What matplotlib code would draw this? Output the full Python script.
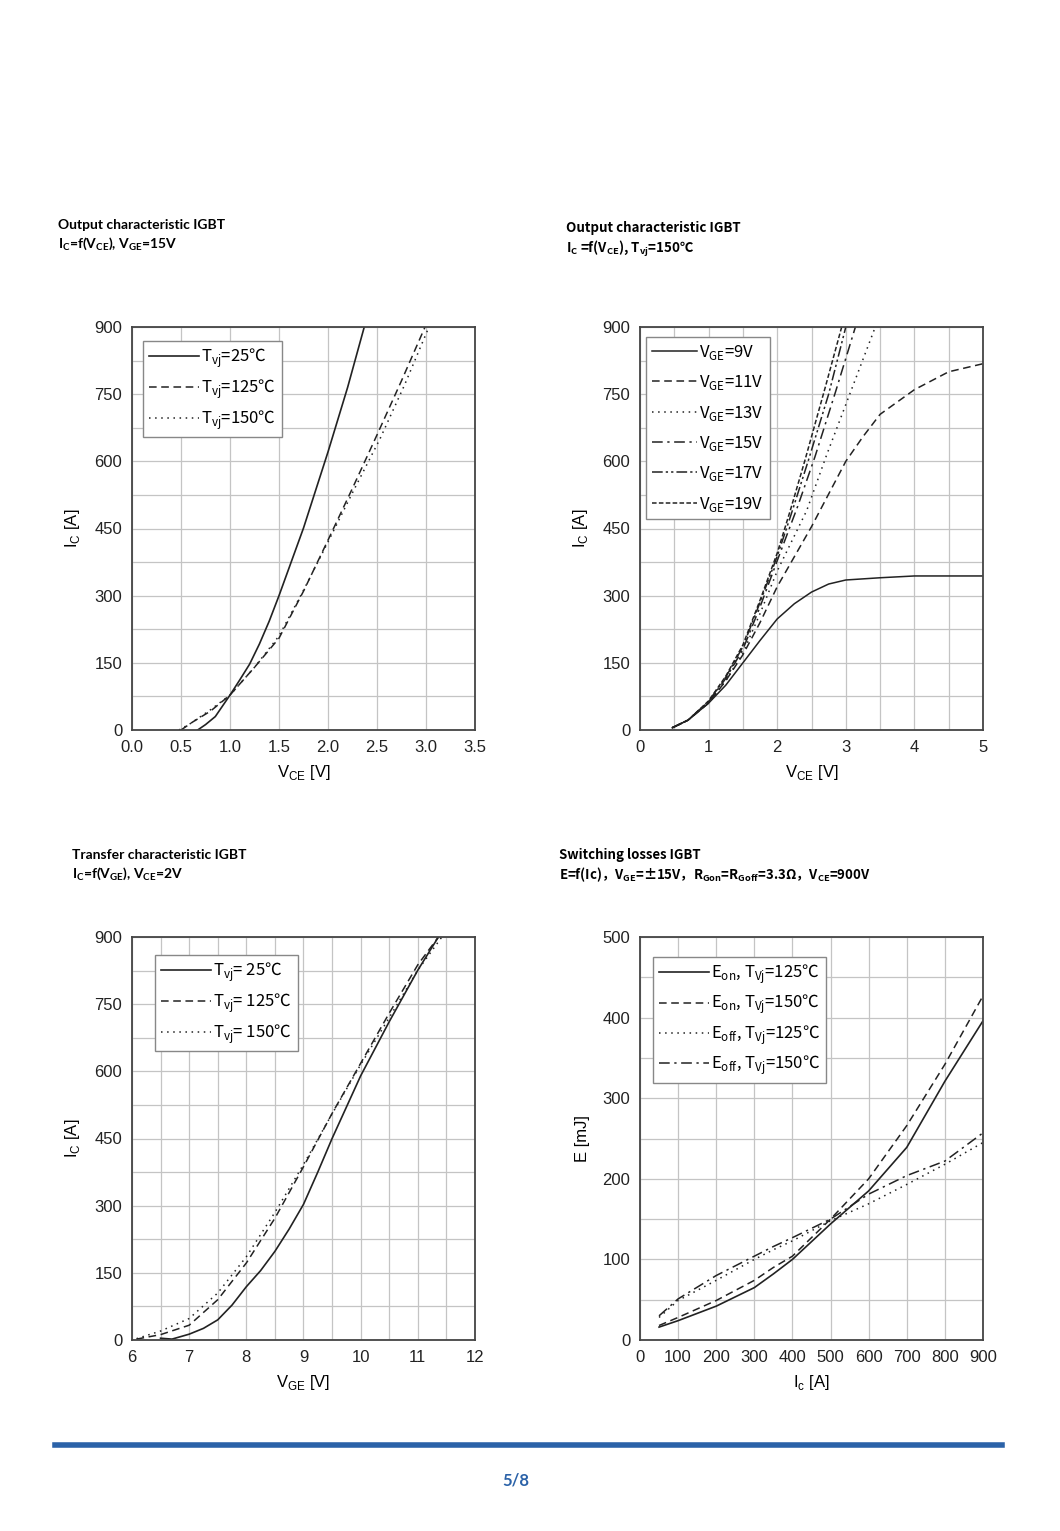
import matplotlib
matplotlib.use("Agg")
from matplotlib import pyplot as plt
from matplotlib.lines import Line2D

plt.rcParams['mathtext.fontset'] = 'custom'
plt.rcParams['font.family'] = ['Liberation Sans', 'DejaVu Sans']

# ---- output characteristic, VGE=15V
oc_25_v = [0.67, 0.75, 0.85, 1.0, 1.1, 1.2, 1.3, 1.4, 1.5, 1.75, 2.0, 2.2, 2.37]
oc_25_i = [0, 12, 30, 78, 112, 147, 192, 243, 300, 451, 621, 765, 900]
oc_125_v = [0.5, 0.62, 0.8, 1.0, 1.25, 1.5, 1.75, 2.0, 2.25, 2.5, 2.75, 3.0]
oc_125_i = [0, 18, 42, 78, 140, 205, 310, 424, 540, 659, 780, 905]
oc_150_v = [0.48, 0.6, 0.8, 1.0, 1.25, 1.5, 1.75, 2.0, 2.25, 2.53, 2.78, 3.03]
oc_150_i = [0, 15, 45, 78, 140, 210, 312, 420, 530, 650, 770, 900]

# ---- output characteristic, Tvj=150C, per VGE
vge_labels = ['9V', '11V', '13V', '15V', '17V', '19V']
vge_v = {
    '9V': [0.47, 0.7, 1.0, 1.25, 1.5, 1.75, 2.0, 2.25, 2.5, 2.75, 3.0, 3.5, 4.0, 5.0],
    '11V': [0.47, 0.7, 1.0, 1.25, 1.5, 1.75, 2.0, 2.5, 3.0, 3.25, 3.5, 4.0, 4.5, 5.0],
    '13V': [0.47, 0.7, 1.0, 1.25, 1.5, 1.75, 2.0, 2.43, 2.72, 3.43],
    '15V': [0.47, 0.7, 1.0, 1.25, 1.5, 1.75, 2.0, 2.3, 2.55, 2.85, 3.14],
    '17V': [0.47, 0.7, 1.0, 1.25, 1.5, 1.75, 2.0, 2.2, 2.45, 2.75, 3.0],
    '19V': [0.47, 0.7, 1.0, 1.25, 1.5, 1.75, 2.0, 2.2, 2.4, 2.7, 2.94],
}
vge_i = {
    '9V': [5, 22, 60, 100, 150, 200, 248, 282, 308, 326, 335, 340, 344, 344],
    '11V': [5, 22, 60, 110, 168, 240, 320, 454, 600, 655, 705, 760, 800, 818],
    '13V': [5, 22, 62, 110, 172, 260, 355, 490, 614, 900],
    '15V': [5, 22, 63, 115, 180, 275, 378, 500, 610, 755, 900],
    '17V': [5, 22, 64, 118, 186, 285, 388, 480, 600, 750, 900],
    '19V': [5, 22, 65, 120, 190, 290, 395, 495, 600, 765, 900],
}

# ---- transfer characteristic
tr_25_v = [6.5, 6.7, 7.0, 7.25, 7.5, 7.75, 8.0, 8.25, 8.5, 8.75, 9.0, 9.25, 9.5,
           10.0, 10.5, 11.0, 11.36]
tr_25_i = [4, 2, 13, 26, 45, 78, 119, 155, 198, 248, 303, 375, 450,
           590, 711, 826, 900]
tr_125_v = [6.08, 6.5, 7.0, 7.5, 8.0, 8.5, 9.0, 9.5, 10.0, 10.5, 11.0, 11.36]
tr_125_i = [2, 12, 33, 90, 172, 272, 387, 506, 618, 730, 838, 900]
tr_150_v = [6.08, 6.5, 7.0, 7.5, 8.0, 8.5, 9.0, 9.5, 10.0, 10.5, 11.0, 11.42]
tr_150_i = [3, 20, 48, 105, 186, 285, 392, 505, 615, 720, 826, 900]

# ---- switching losses
sw_ic = [50, 100, 200, 300, 350, 400, 500, 600, 700, 800, 900]
eon_125 = [16, 24, 42, 65, 82, 100, 144, 185, 239, 321, 396]
eon_150 = [18, 28, 49, 74, 90, 104, 150, 200, 266, 342, 427]
eoff_125 = [28, 49, 74, 100, 112, 123, 148, 169, 193, 218, 245]
eoff_150 = [30, 51, 80, 104, 116, 127, 150, 181, 204, 222, 257]

W, H = 1060, 1531
fig = plt.figure(figsize=(W / 100, H / 100), dpi=100)

LINE = '#222222'
DASHED = (0, (5, 3))
DOTTED = (0, (1, 3))
DASHDOT = (0, (7, 3, 1.5, 3))
DASHDOTDOT = (0, (7, 2, 1.5, 2, 1.5, 2))
SHORTDASH = (0, (3, 1.5))
LEG_FONT = {'family': ['Noto Sans CJK SC'], 'size': 12}


def make_axes(px_left, px_top, xlim, ylim, xticks, yticks, xgrid, ygrid):
    ax = fig.add_axes([px_left / W, 1 - (px_top + 403) / H, 343 / W, 403 / H])
    ax.set_xlim(*xlim)
    ax.set_ylim(*ylim)
    ax.set_xticks(xticks)
    ax.set_yticks(yticks)
    ax.set_xticks(xgrid, minor=True)
    ax.set_yticks(ygrid, minor=True)
    ax.grid(True, which='both', color='#c4c4c4', lw=0.9)
    ax.set_axisbelow(True)
    ax.tick_params(which='both', length=0, labelsize=12, pad=7, colors='#222222')
    for s in ax.spines.values():
        s.set_color('#444444')
        s.set_linewidth(1.3)
    return ax


def add_legend(ax, anchor, spacing):
    leg = ax.legend(loc='upper left', bbox_to_anchor=anchor, fancybox=False,
                    edgecolor='#888888', framealpha=1, prop=LEG_FONT,
                    handlelength=3.0, handletextpad=0.15, labelspacing=spacing,
                    borderpad=0.35, borderaxespad=0)
    leg.get_frame().set_linewidth(1.0)
    return leg


def title(px_x, px_y1, px_y2, line1, line2, family='Lato', size=10):
    fig.text(px_x / W, 1 - px_y1 / H, line1, fontsize=size, fontweight='bold',
             family=family, va='center', ha='left')
    fig.text(px_x / W, 1 - px_y2 / H, line2, fontsize=size, fontweight='bold',
             family=family, va='center', ha='left')


# ---------------- top left
ax1 = make_axes(132, 327, (0, 3.5), (0, 900), [0, 0.5, 1, 1.5, 2, 2.5, 3, 3.5],
                range(0, 901, 150), [], range(0, 901, 75))
ax1.set_xticklabels(['0.0', '0.5', '1.0', '1.5', '2.0', '2.5', '3.0', '3.5'])
ax1.plot(oc_25_v, oc_25_i, color=LINE, lw=1.2, label=r'T$_{\mathregular{vj}}$=25℃')
ax1.plot(oc_125_v, oc_125_i, color=LINE, lw=1.1, ls=DASHED, label=r'T$_{\mathregular{vj}}$=125℃')
ax1.plot(oc_150_v, oc_150_i, color=LINE, lw=1.1, ls=DOTTED, label=r'T$_{\mathregular{vj}}$=150℃')
ax1.set_xlabel(r'V$_{\mathregular{CE}}$ [V]', fontsize=12, labelpad=6)
ax1.set_ylabel(r'I$_{\mathregular{C}}$ [A]', fontsize=12, labelpad=9)
add_legend(ax1, (0.032, 0.965), 0.45)
title(58, 225, 244, 'Output characteristic IGBT',
      r'I$_{\mathregular{C}}$=f(V$_{\mathregular{CE}}$), V$_{\mathregular{GE}}$=15V')

# ---------------- top right
ax2 = make_axes(640, 327, (0, 5), (0, 900), range(0, 6), range(0, 901, 150),
                [0.5, 1.5, 2.5, 3.5, 4.5], range(0, 901, 75))
styles = {'9V': '-', '11V': DASHED, '13V': DOTTED, '15V': DASHDOT,
          '17V': DASHDOTDOT, '19V': SHORTDASH}
for lab in vge_labels:
    ax2.plot(vge_v[lab], vge_i[lab], color=LINE, lw=1.1, ls=styles[lab],
             label=r'V$_{\mathregular{GE}}$=' + lab)
ax2.set_xlabel(r'V$_{\mathregular{CE}}$ [V]', fontsize=12, labelpad=6)
ax2.set_ylabel(r'I$_{\mathregular{C}}$ [A]', fontsize=12, labelpad=9)
leg2 = ax2.legend(loc='upper left', bbox_to_anchor=(0.0175, 0.975), fancybox=False,
                  edgecolor='#888888', framealpha=1, prop=LEG_FONT,
                  handlelength=2.7, handletextpad=0.15, labelspacing=0.68,
                  borderpad=0.35, borderaxespad=0)
leg2.get_frame().set_linewidth(1.0)
title(566, 228, 249, 'Output characteristic IGBT',
      r'I$_{\mathregular{C}}$ =f(V$_{\mathregular{CE}}$), T$_{\mathregular{vj}}$=150℃',
      family=['Noto Sans CJK SC'], size=9.6)

# ---------------- bottom left
ax3 = make_axes(132, 937, (6, 12), (0, 900), range(6, 13), range(0, 901, 150),
                [6.5, 7.5, 8.5, 9.5, 10.5, 11.5], range(0, 901, 75))
ax3.plot(tr_25_v, tr_25_i, color=LINE, lw=1.2, label=r'T$_{\mathregular{vj}}$= 25℃')
ax3.plot(tr_125_v, tr_125_i, color=LINE, lw=1.1, ls=DASHED, label=r'T$_{\mathregular{vj}}$= 125℃')
ax3.plot(tr_150_v, tr_150_i, color=LINE, lw=1.1, ls=DOTTED, label=r'T$_{\mathregular{vj}}$= 150℃')
ax3.set_xlabel(r'V$_{\mathregular{GE}}$ [V]', fontsize=12, labelpad=6)
ax3.set_ylabel(r'I$_{\mathregular{C}}$ [A]', fontsize=12, labelpad=9)
add_legend(ax3, (0.067, 0.955), 0.45)
title(72, 855, 874, 'Transfer characteristic IGBT',
      r'I$_{\mathregular{C}}$=f(V$_{\mathregular{GE}}$), V$_{\mathregular{CE}}$=2V')

# ---------------- bottom right
ax4 = make_axes(640, 937, (0, 900), (0, 500), range(0, 901, 100), range(0, 501, 100),
                [], range(0, 501, 50))
ax4.plot(sw_ic, eon_125, color=LINE, lw=1.2, label=r'E$_{\mathregular{on}}$, T$_{\mathregular{Vj}}$=125℃')
ax4.plot(sw_ic, eon_150, color=LINE, lw=1.1, ls=DASHED, label=r'E$_{\mathregular{on}}$, T$_{\mathregular{Vj}}$=150℃')
ax4.plot(sw_ic, eoff_125, color=LINE, lw=1.1, ls=DOTTED, label=r'E$_{\mathregular{off}}$, T$_{\mathregular{Vj}}$=125℃')
ax4.plot(sw_ic, eoff_150, color=LINE, lw=1.1, ls=DASHDOT, label=r'E$_{\mathregular{off}}$, T$_{\mathregular{Vj}}$=150℃')
ax4.set_xlabel(r'I$_{\mathregular{c}}$ [A]', fontsize=12, labelpad=6)
ax4.set_ylabel('E [mJ]', fontsize=12, labelpad=9)
add_legend(ax4, (0.038, 0.950), 0.42)
title(559, 855, 875, 'Switching losses IGBT',
      r'E=f(Ic)，V$_{\mathregular{GE}}$=±15V，R$_{\mathregular{Gon}}$=R$_{\mathregular{Goff}}$=3.3Ω，V$_{\mathregular{CE}}$=900V',
      family=['Noto Sans CJK SC'], size=9.5)

# ---------------- footer
fig.add_artist(Line2D([55 / W, 1002 / W], [1 - 1445 / H, 1 - 1445 / H],
                      color='#2b62a8', lw=4))
fig.text(516 / W, 1 - 1481 / H, '5/8', color='#2b62a8', fontsize=12,
         fontweight='bold', family='Lato', ha='center', va='center')

fig.savefig('out.png', dpi=100)
